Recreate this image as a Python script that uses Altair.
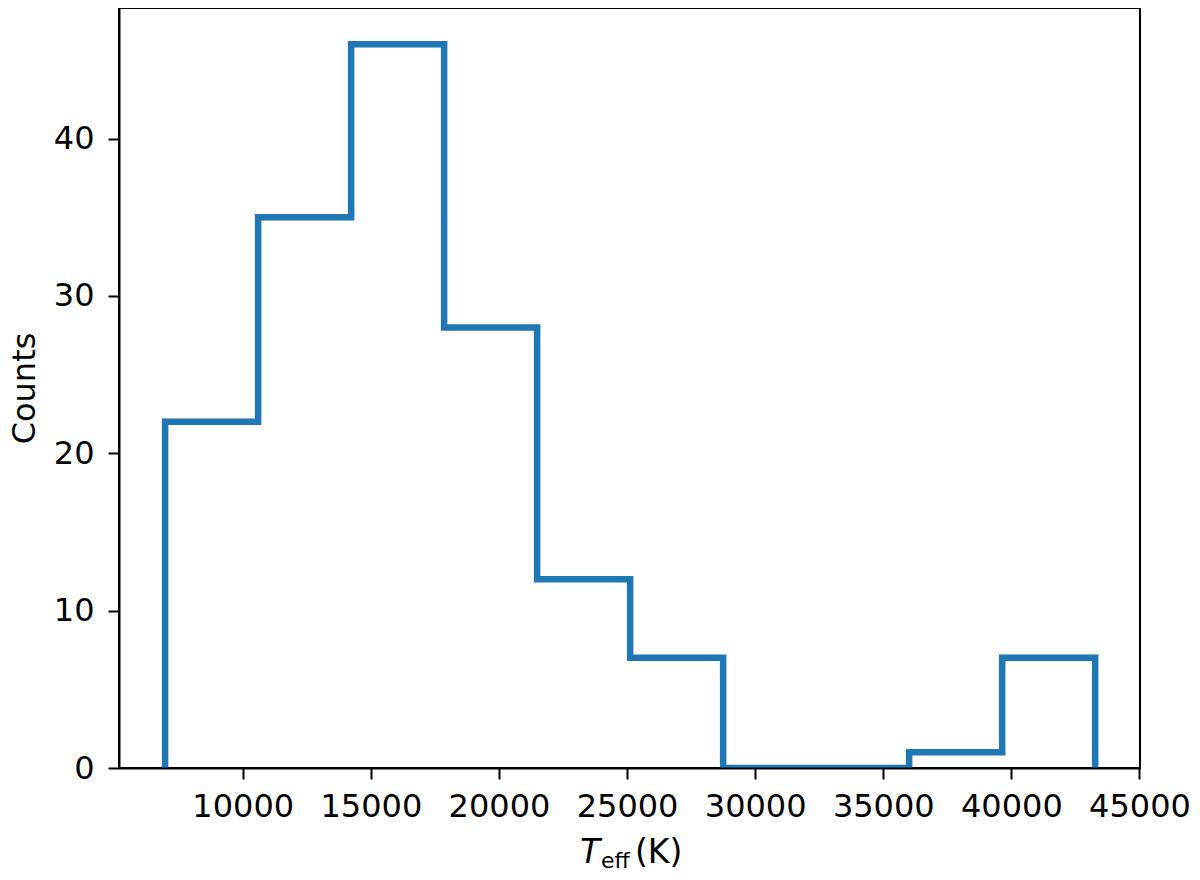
import altair as alt
import pandas as pd

# Histogram (step) data
bin_edges = [6970, 10600, 14230, 17860, 21490, 25120, 28750, 32380, 36010, 39640, 43270]
counts = [22, 35, 46, 28, 12, 7, 0, 0, 1, 7]
x_ticks = [10000, 15000, 20000, 25000, 30000, 35000, 40000, 45000]
y_ticks = [0, 10, 20, 30, 40]

# Build step outline (like matplotlib histtype='step')
xs = [bin_edges[0]] + bin_edges[:-1] + [bin_edges[-1], bin_edges[-1]]
ys = [0] + counts + [counts[-1], 0]
df = pd.DataFrame({"x": xs, "y": ys, "order": list(range(len(xs)))})

FONT = "DejaVu Sans"

line = alt.Chart(df).mark_line(
    interpolate="step-after",
    color="#1f77b4",
    strokeWidth=6.5,
    strokeJoin="miter",
    strokeCap="square",
    clip=True,
).encode(
    x=alt.X(
        "x:Q",
        scale=alt.Scale(domain=[5170, 45020], nice=False, zero=False),
        axis=alt.Axis(
            values=x_ticks,
            format="d",
            title=None,
            labelFontSize=32,
            labelFont=FONT,
            labelColor="black",
            labelPadding=12,
            tickSize=11,
            tickWidth=2,
            tickColor="black",
            domainColor="black",
            domainWidth=2,
            grid=False,
            zindex=1,
            labelFlush=False,
            labelOverlap=False,
        ),
    ),
    y=alt.Y(
        "y:Q",
        scale=alt.Scale(domain=[0, 48.3], nice=False),
        axis=alt.Axis(
            values=y_ticks,
            title="Counts",
            titleFont=FONT,
            titleFontSize=32,
            titleFontWeight="normal",
            titleColor="black",
            titlePadding=12,
            labelFontSize=32,
            labelFont=FONT,
            labelColor="black",
            labelPadding=14,
            tickSize=11,
            tickWidth=2,
            tickColor="black",
            domainColor="black",
            domainWidth=2,
            grid=False,
            zindex=1,
            labelFlush=False,
        ),
    ),
    order="order:Q",
)

one = pd.DataFrame({"a": [0]})
t_main = alt.Chart(one).mark_text(
    text="T", font=FONT, fontSize=33, fontStyle="italic", align="left",
    baseline="alphabetic", color="black",
).encode(x=alt.value(461), y=alt.value(855))
t_sub = alt.Chart(one).mark_text(
    text="eff", font=FONT, fontSize=22, align="left",
    baseline="alphabetic", color="black",
).encode(x=alt.value(482), y=alt.value(860))
t_unit = alt.Chart(one).mark_text(
    text="(K)", font=FONT, fontSize=33, align="left",
    baseline="alphabetic", color="black",
).encode(x=alt.value(516), y=alt.value(855))

chart = alt.layer(line, t_main, t_sub, t_unit).properties(
    width=1021,
    height=760,
    autosize=alt.AutoSizeParams(type="none"),
    padding={"left": 111, "top": 0, "right": 52, "bottom": 104},
    background="white",
).configure_view(
    stroke="black",
    strokeWidth=2,
)

chart.save("out.html", embed_options={"renderer": "svg", "actions": False})
